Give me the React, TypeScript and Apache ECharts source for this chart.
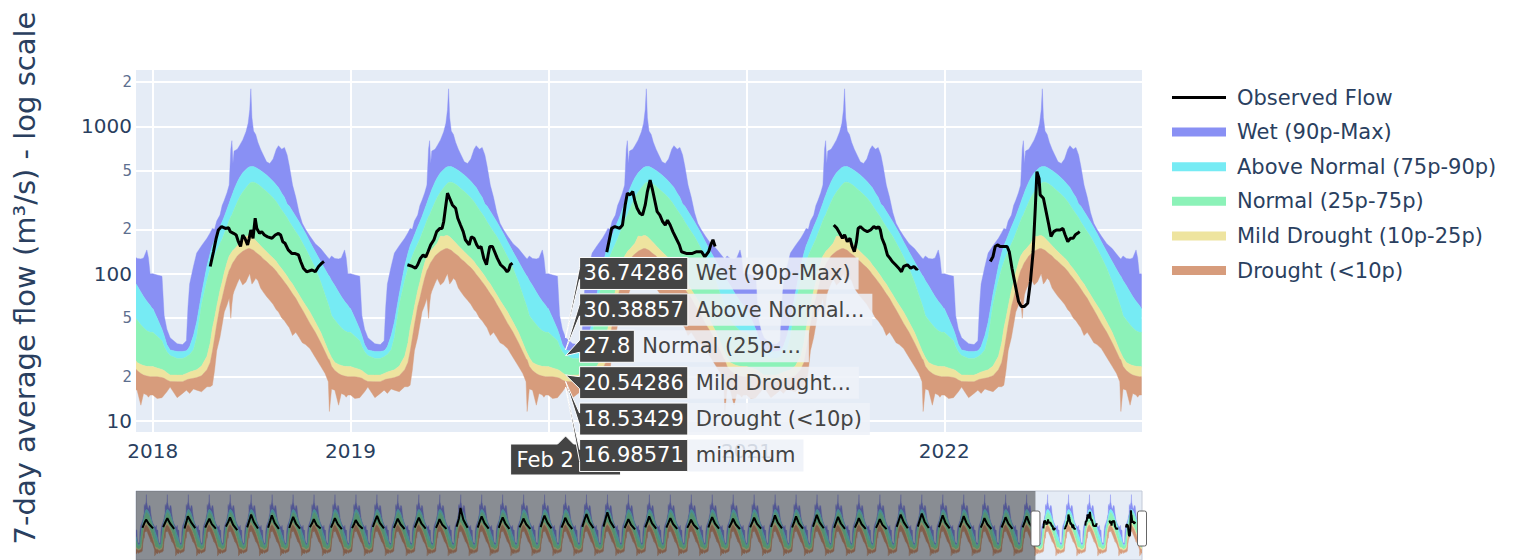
import { useEffect, useRef } from 'react';
import * as echarts from 'echarts';

const FONT = '"DejaVu Sans", Verdana, sans-serif';
const INK = '#2a3f5f';
const PLOT_BG = '#E5ECF6';

// Day of year (0 = Jan 1) at which the daily percentile curves were read
const PROFILE_DOY = [0, 8, 17, 21, 26, 32, 45, 55, 62, 65, 68, 75, 81, 90, 100, 106, 110, 114, 118, 124, 128, 132, 137, 141, 144, 146, 148, 150, 156, 160, 166, 172, 176, 179, 181, 183, 186, 190, 194, 199, 204, 210, 216, 222, 228, 232, 238, 243, 248, 252, 258, 264, 270, 276, 282, 290, 300, 310, 318, 324, 326, 330, 336, 343, 348, 354, 357, 360, 364];
const BAND_MAX = [100, 98, 96, 52, 42, 36.74286, 33.5, 33, 35, 60, 85, 112, 138, 155, 174, 190, 203, 200, 228, 250, 290, 315, 355, 400, 700, 800, 560, 680, 700, 740, 810, 920, 1050, 1300, 1800, 1150, 930, 880, 780, 700, 640, 575, 560, 600, 700, 740, 700, 720, 640, 540, 400, 330, 260, 220, 200, 180, 160, 148, 136, 128, 126, 132, 127, 126, 128, 145, 128, 100, 100];
const BAND_P90 = [58, 50, 42, 38, 33, 30.38857, 29.6, 29.6, 30, 30.8, 32, 38, 47, 73, 113, 138, 155, 168, 183, 208, 225, 245, 275, 302, 325, 340, 356, 373, 420, 448, 485, 510, 525, 532, 535, 535, 535, 525, 516, 502, 487, 468, 446, 425, 400, 385, 352, 330, 297, 288, 265, 245, 225, 206, 188, 165, 141, 121, 107, 98, 96, 90, 83, 75, 70, 65, 63, 61, 58];
const BAND_P75 = [40, 37.6, 35, 32, 29.5, 27.8, 26.6, 26.6, 27.3, 27.8, 28.3, 30.5, 37, 62, 90, 109, 120, 132, 143, 160, 172, 188, 210, 230, 245, 250, 262, 273, 307, 330, 358, 383, 400, 412, 416, 418, 418, 413, 405, 392, 378, 361, 345, 328, 308, 293, 271, 255, 240, 225, 208, 193, 179, 163, 148, 130, 109, 88, 72, 62, 59, 52, 48.5, 45, 43, 41, 40.5, 40, 40];
const BAND_P25 = [23.4, 22.9, 22.4, 22, 21.3, 20.54286, 20.5, 20.5, 21, 21.3, 21.5, 21.9, 22.3, 23.6, 27.5, 34, 42.6, 50, 60, 77, 88, 102, 119, 132, 137, 141, 144, 146, 155, 161, 180, 179, 182, 182, 180, 178, 174, 168, 162, 155, 148, 141, 134, 128, 121, 115, 108, 102, 96, 91, 85, 78, 72, 66, 61, 55, 47, 40, 34, 30, 29, 27, 25, 24.2, 23.8, 23.5, 23.5, 23.4, 23.4];
const BAND_P10 = [20, 20, 19.7, 19.5, 19, 18.53429, 18.5, 18.5, 19, 19.2, 19.3, 19.5, 19.7, 20.3, 22.3, 25, 29.6, 36.5, 45, 60, 68, 79, 94, 105, 110, 115, 119, 122, 132, 136, 142, 146, 148, 148, 147, 146, 144, 140, 136, 132, 126, 121, 115, 110, 104, 99, 93, 88, 83, 79, 73, 68, 62, 57, 52, 46, 40, 34, 29.5, 26.5, 26, 23.5, 22, 21, 20.5, 20.2, 20.1, 20, 20];
const BAND_MIN = [15, 14.2, 14.4, 15, 15.8, 16.98571, 14.4, 15.4, 16.2, 15.8, 15.4, 16.5, 16.2, 15.8, 17.1, 17.1, 17.5, 22, 30, 37, 45, 55, 61.3, 68, 49.8, 62, 71.7, 76, 86, 92.9, 83.8, 88, 95, 100, 92, 85, 88, 93, 90, 80, 75, 70, 66, 62, 57, 55, 50, 48, 45, 43, 38, 40, 37, 34, 33, 31, 27, 23.5, 21, 18.5, 11.6, 16.5, 16.2, 12.8, 15.4, 15, 14.5, 15, 15];

// Observed 7-day average flow, [day of year, m3/s]
const OBS_2018 = [[106, 112], [112, 141], [117, 174], [121, 198], [127, 209], [134, 203], [140, 205], [143, 193], [149, 188], [154, 183], [158, 165], [162, 153], [166, 183], [170, 174], [175, 157], [178, 174], [181, 198], [185, 174], [189, 238], [192, 203], [197, 188], [201, 193], [206, 183], [212, 178], [220, 174], [226, 183], [232, 188], [236, 183], [240, 165], [244, 161], [250, 145], [257, 137], [263, 137], [269, 134], [273, 121], [278, 109], [284, 103], [294, 106], [300, 103], [306, 112], [312, 118], [316, 121]];
const OBS_2019 = [[105, 115], [114, 112], [120, 109], [124, 115], [129, 127], [134, 134], [139, 130], [143, 141], [148, 157], [154, 170], [159, 193], [165, 203], [169, 203], [172, 226], [176, 293], [179, 352], [183, 325], [188, 293], [194, 278], [198, 238], [203, 214], [208, 193], [212, 170], [219, 157], [223, 178], [228, 174], [233, 157], [237, 149], [241, 153], [246, 127], [251, 115], [254, 134], [257, 153], [262, 153], [266, 141], [271, 127], [277, 115], [284, 109], [289, 103], [292, 106], [295, 115], [299, 118]];
const OBS_2020 = [[108, 140], [117, 203], [123, 209], [132, 203], [137, 214], [142, 293], [146, 352], [151, 343], [156, 361], [160, 309], [164, 278], [169, 257], [174, 250], [179, 293], [183, 361], [188, 432], [192, 377], [197, 309], [201, 264], [206, 250], [211, 226], [216, 214], [220, 231], [225, 214], [230, 193], [236, 174], [242, 157], [246, 141], [256, 137], [265, 137], [274, 141], [283, 141], [289, 130], [296, 141], [300, 157], [304, 170], [308, 153]];
const OBS_2021 = [[161, 214], [167, 203], [172, 188], [177, 174], [181, 184], [186, 165], [191, 174], [195, 153], [199, 141], [203, 165], [206, 203], [210, 209], [217, 198], [223, 193], [229, 198], [235, 209], [240, 203], [244, 209], [247, 198], [250, 174], [255, 157], [260, 134], [265, 127], [269, 121], [275, 115], [281, 109], [286, 103], [290, 112], [297, 115], [303, 109], [309, 112], [314, 107], [316, 109]];
const OBS_2022 = [[85, 121], [90, 131], [94, 153], [99, 157], [103, 153], [110, 153], [116, 153], [120, 141], [125, 109], [131, 84], [137, 65], [142, 60], [148, 60], [154, 63], [159, 88], [164, 141], [168, 278], [171, 493], [175, 444], [177, 343], [183, 325], [188, 264], [193, 214], [197, 179], [202, 193], [207, 198], [214, 198], [219, 203], [223, 184], [228, 165], [233, 174], [238, 174], [242, 184], [246, 188], [250, 193]];
// Earlier seasons, only visible (coarsely) in the range slider
const OBS_EARLY: [number, number[][]][] = [
  [1975, [[112, 118], [150, 180], [176, 232], [222, 165], [298, 112]]],
  [1976, [[108, 125], [148, 190], [181, 262], [228, 170], [300, 108]]],
  [1977, [[115, 112], [152, 210], [172, 305], [230, 185], [302, 115]]],
  [1978, [[110, 120], [146, 175], [183, 248], [226, 160], [296, 110]]],
  [1979, [[106, 130], [150, 200], [178, 280], [232, 150], [304, 98]]],
  [1980, [[112, 122], [154, 230], [180, 350], [228, 190], [300, 112]]],
  [1981, [[110, 118], [149, 215], [175, 330], [225, 175], [298, 108]]],
  [1982, [[114, 116], [152, 195], [182, 290], [230, 168], [302, 110]]],
  [1983, [[108, 124], [147, 170], [177, 240], [224, 150], [296, 112]]],
  [1984, [[111, 120], [150, 185], [180, 262], [229, 160], [300, 106]]],
  [1985, [[113, 115], [151, 165], [176, 222], [226, 150], [299, 110]]],
  [1986, [[109, 126], [148, 210], [183, 312], [231, 178], [303, 112]]],
  [1987, [[112, 118], [150, 180], [178, 250], [227, 158], [298, 107]]],
  [1988, [[110, 121], [149, 190], [181, 270], [229, 165], [301, 110]]],
  [1989, [[114, 117], [152, 175], [175, 240], [224, 152], [297, 108]]],
  [1990, [[108, 128], [150, 260], [176, 600], [226, 230], [300, 118]]],
  [1991, [[111, 120], [148, 205], [180, 300], [229, 172], [302, 110]]],
  [1992, [[113, 118], [151, 195], [182, 280], [228, 165], [299, 109]]],
  [1993, [[109, 122], [149, 180], [177, 252], [225, 158], [297, 108]]],
  [1994, [[112, 125], [150, 220], [179, 320], [230, 180], [301, 112]]],
  [1995, [[110, 119], [152, 190], [176, 270], [226, 162], [298, 107]]],
  [1996, [[108, 127], [148, 235], [181, 360], [231, 190], [303, 115]]],
  [1997, [[111, 130], [150, 260], [178, 420], [229, 200], [300, 116]]],
  [1998, [[114, 116], [153, 175], [180, 242], [227, 150], [296, 104]]],
  [1999, [[109, 123], [149, 200], [177, 300], [228, 170], [300, 110]]],
  [2000, [[112, 120], [151, 185], [182, 262], [230, 160], [301, 108]]],
  [2001, [[110, 117], [150, 168], [176, 230], [224, 148], [297, 105]]],
  [2002, [[113, 121], [148, 195], [179, 282], [229, 165], [299, 110]]],
  [2003, [[108, 119], [152, 178], [178, 250], [226, 155], [298, 107]]],
  [2004, [[111, 122], [150, 188], [181, 270], [230, 162], [302, 111]]],
  [2005, [[109, 126], [149, 215], [177, 330], [227, 180], [300, 113]]],
  [2006, [[112, 121], [151, 200], [180, 300], [229, 170], [301, 110]]],
  [2007, [[110, 128], [148, 225], [176, 340], [226, 185], [298, 114]]],
  [2008, [[114, 118], [152, 195], [182, 290], [231, 168], [303, 109]]],
  [2009, [[109, 120], [150, 182], [178, 260], [228, 158], [299, 108]]],
  [2010, [[112, 117], [151, 172], [179, 240], [225, 150], [297, 106]]],
  [2011, [[108, 127], [148, 228], [177, 350], [230, 188], [301, 114]]],
  [2012, [[111, 130], [150, 240], [181, 380], [229, 195], [302, 116]]],
  [2013, [[113, 124], [149, 215], [178, 330], [227, 178], [300, 112]]],
  [2014, [[110, 122], [151, 205], [180, 310], [230, 172], [299, 110]]],
  [2015, [[112, 119], [150, 182], [176, 260], [226, 158], [297, 107]]],
  [2016, [[109, 121], [149, 190], [179, 280], [228, 165], [300, 109]]],
  [2017, [[111, 123], [151, 200], [182, 300], [229, 170], [301, 111]]],
];
const OBSERVED: [number, number[][]][] = [...OBS_EARLY, [2018, OBS_2018], [2019, OBS_2019], [2020, OBS_2020], [2021, OBS_2021], [2022, OBS_2022]];

const BAND_NAMES = ['Wet (90p-Max)', 'Above Normal (75p-90p)', 'Normal (25p-75p)', 'Mild Drought (10p-25p)', 'Drought (<10p)'];
const BAND_COLORS = ['#8990f4', '#76ebf4', '#8cf2b8', '#eee49f', '#d79c7c'];
const MIN_NAME = 'minimum';
const OBS_NAME = 'Observed Flow';

const Y_TICKS = [10, 20, 50, 100, 200, 500, 1000, 2000];
const X_TICK_YEARS = [2018, 2019, 2020, 2021, 2022];
const X_LABEL_YEARS = [2018, 2019, 2021, 2022]; // 2020 sits under the hover date label
const Y_RANGE = [8.42, 2415];
const VIEW = [Date.UTC(2017, 11, 1), Date.UTC(2023, 0, 1)];
const RECORD = [Date.UTC(1975, 0, 1), Date.UTC(2023, 0, 1)];
const MAIN_YEARS = [2017, 2018, 2019, 2020, 2021, 2022];
const HOVER = { year: 2020, doy: 32, label: 'Feb 2, 2020' };
const Y_TITLE = '7-day average flow (m³/s) - log scale';

const doyTime = (year: number, doy: number) => Date.UTC(year, 0, 1 + doy);

function buildSeries(years: number[], g: number) {
  const times: number[] = [];
  const idx: number[] = [];
  years.forEach((y) => PROFILE_DOY.forEach((d, i) => { times.push(doyTime(y, d)); idx.push(i); }));
  const curves = [BAND_MIN, BAND_P10, BAND_P25, BAND_P75, BAND_P90, BAND_MAX];
  const mid = times[Math.floor(times.length / 2)];
  const out: any[] = BAND_NAMES.map((name, bi) => {
    const c = curves.length - 1 - bi;
    const up = curves[c];
    const lo = curves[c - 1];
    return {
      type: 'custom', name, xAxisIndex: g, yAxisIndex: g, silent: true, z: 2, clip: true,
      itemStyle: { color: BAND_COLORS[bi] },
      encode: { x: 0, y: 1 },
      data: [[mid, 100]],
      renderItem: (params: any, api: any) => {
        const pts: number[][] = [];
        for (let k = 0; k < times.length; k++) pts.push(api.coord([times[k], up[idx[k]]]));
        for (let k = times.length - 1; k >= 0; k--) pts.push(api.coord([times[k], lo[idx[k]]]));
        const cs = params.coordSys;
        return {
          type: 'polygon', shape: { points: pts },
          style: { fill: BAND_COLORS[bi], stroke: BAND_COLORS[bi], lineWidth: 0.4 },
          clipPath: { type: 'rect', shape: { x: cs.x, y: cs.y, width: cs.width, height: cs.height } },
        };
      },
    };
  });
  const obs: any[] = [];
  OBSERVED.forEach(([y, pts]) => {
    if (!years.includes(y)) return;
    pts.forEach(([d, v]) => obs.push([doyTime(y, d), v]));
    obs.push([doyTime(y, 364), null]);
  });
  out.push({
    type: 'line', name: OBS_NAME, xAxisIndex: g, yAxisIndex: g, data: obs, symbol: 'none',
    silent: true, connectNulls: false, z: 3, itemStyle: { color: '#000' },
    lineStyle: { color: '#000', width: g === 0 ? 3 : 2 },
  });
  return out;
}

function overlay(chart: any) {
  const els: any[] = [];
  els.push({
    type: 'text', x: 25, y: 278, rotation: Math.PI / 2, z: 50,
    style: { text: Y_TITLE, fill: INK, fontSize: 29, fontFamily: FONT, align: 'center', verticalAlign: 'middle', textAlign: 'center', textVerticalAlign: 'middle' },
  });
  const sl = chart.convertToPixel({ gridIndex: 1 }, [RECORD[0], 100]);
  const sa = chart.convertToPixel({ gridIndex: 1 }, [VIEW[0], 100]);
  const sb = chart.convertToPixel({ gridIndex: 1 }, [VIEW[1], 100]);
  els.push({ type: 'rect', shape: { x: sl[0], y: 491, width: sa[0] - sl[0], height: 100 }, style: { fill: 'rgba(0,0,0,0.4)' }, z: 40, silent: true });
  [sa[0], sb[0]].forEach((x) => els.push({
    type: 'rect', shape: { x: x - 4.5, y: 511, width: 9, height: 35, r: 2 },
    style: { fill: '#fff', stroke: '#666', lineWidth: 1 }, z: 41,
  }));

  const i = PROFILE_DOY.indexOf(HOVER.doy);
  const t = doyTime(HOVER.year, HOVER.doy);
  const vals = [BAND_MAX[i], BAND_P90[i], BAND_P75[i], BAND_P25[i], BAND_P10[i], BAND_MIN[i]];
  const names = [...BAND_NAMES, MIN_NAME].map((n) => (n.length > 15 ? n.slice(0, 12) + '...' : n));
  const pts = vals.map((v) => chart.convertToPixel({ gridIndex: 0 }, [t, v]));
  const px = pts[0][0];
  const meanY = pts.reduce((s: number, p: number[]) => s + p[1], 0) / pts.length;
  const ctx = document.createElement('canvas').getContext('2d') as CanvasRenderingContext2D;
  ctx.font = '21px "DejaVu Sans"';
  const txt = (text: string, x: number, y: number, fill: string, extra: any = {}) => ({
    type: 'text', x, y, z: 102, silent: true,
    style: { text, fill, fontSize: 21, fontFamily: FONT, align: 'left', verticalAlign: 'middle', textAlign: 'left', textVerticalAlign: 'middle', ...extra },
  });

  const step = 36.4, h = 32, arrow = 14;
  const bx = px + arrow;

  // x-axis hover label (its right part lies under the value boxes)
  const gb = chart.convertToPixel({ gridIndex: 0 }, [t, Y_RANGE[0]])[1];
  const dw = 110;
  const top = gb + 12, bot = gb + 43;
  els.push({
    type: 'polygon', z: 99, silent: true,
    shape: { points: [[px, gb + 4], [px + 8, top], [px + dw / 2, top], [px + dw / 2, bot], [px - dw / 2, bot], [px - dw / 2, top], [px - 8, top]] },
    style: { fill: '#444', stroke: '#fff', lineWidth: 1 },
  });
  els.push({ ...txt(HOVER.label, px - dw / 2 + 6, (top + bot) / 2, '#fff', { width: bx - (px - dw / 2 + 6) - 1, overflow: 'truncate', ellipsis: '' }), z: 99 });

  vals.forEach((v, k) => {
    const ly = meanY + (k - (vals.length - 1) / 2) * step;
    const s = String(v);
    const vw = ctx.measureText(s).width + 8;
    const nw = ctx.measureText(names[k]).width + 16;
    const py = pts[k][1];
    els.push({
      type: 'rect', z: 100, silent: true,
      shape: { x: bx + vw, y: ly - h / 2, width: nw, height: h },
      style: { fill: 'rgba(238,241,248,0.86)' },
    });
    els.push({
      type: 'polygon', z: 101, silent: true,
      shape: { points: [[px, py], [bx, ly - 6], [bx, ly - h / 2], [bx + vw, ly - h / 2], [bx + vw, ly + h / 2], [bx, ly + h / 2], [bx, ly + 6]] },
      style: { fill: '#444', stroke: '#fff', lineWidth: 1 },
    });
    els.push(txt(s, bx + 4, ly, '#fff'));
    els.push(txt(names[k], bx + vw + 8, ly, '#444'));
  });
  return els;
}

export default function App() {
  const ref = useRef<HTMLDivElement>(null);
  useEffect(() => {
    if (!ref.current) return;
    const chart = echarts.init(ref.current, null, { renderer: 'svg' });
    const recordYears: number[] = [];
    for (let y = 1975; y <= 2022; y++) recordYears.push(y);
    const xTicks = X_TICK_YEARS.map((y) => Date.UTC(y, 0, 1));
    const xLabels = X_LABEL_YEARS.map((y) => Date.UTC(y, 0, 1));
    const yLabel = (v: number) => {
      const r = Math.round(v);
      const lead = Math.round(r / Math.pow(10, Math.floor(Math.log10(r) + 1e-9)));
      return lead === 1 ? `{maj|${r}}` : `{mnr|${lead}}`;
    };
    chart.setOption({
      animation: false,
      backgroundColor: '#fff',
      textStyle: { fontFamily: FONT },
      grid: [
        { left: 136, top: 70, width: 1006, height: 362, show: true, backgroundColor: PLOT_BG, borderWidth: 0 },
        { left: 136, top: 491, width: 1006, height: 90, show: true, backgroundColor: PLOT_BG, borderColor: '#c3cad8', borderWidth: 1 },
      ],
      xAxis: [
        {
          type: 'value', gridIndex: 0, min: VIEW[0], max: VIEW[1],
          axisLine: { show: false }, axisTick: { show: false, customValues: xTicks },
          splitLine: { show: true, lineStyle: { color: '#fff', width: 2 } },
          axisLabel: { customValues: xLabels, margin: 9, fontSize: 20, color: INK, fontFamily: FONT, formatter: (v: number) => String(new Date(v).getUTCFullYear()) },
        },
        { type: 'value', gridIndex: 1, min: RECORD[0], max: RECORD[1], show: false, splitLine: { show: false } },
      ],
      yAxis: [
        {
          type: 'log', gridIndex: 0, min: Y_RANGE[0], max: Y_RANGE[1],
          axisLine: { show: false }, axisTick: { show: false, customValues: Y_TICKS },
          splitLine: { show: true, lineStyle: { color: '#fff', width: 2 } },
          axisLabel: {
            customValues: Y_TICKS, margin: 4, formatter: yLabel,
            rich: { maj: { fontSize: 20, color: INK, fontFamily: FONT }, mnr: { fontSize: 15, color: '#5d6f8f', fontFamily: FONT } },
          },
        },
        { type: 'log', gridIndex: 1, min: Y_RANGE[0], max: Y_RANGE[1], show: false, splitLine: { show: false } },
      ],
      legend: {
        orient: 'vertical', left: 1167, top: 82, itemWidth: 54, itemHeight: 9, itemGap: 13.6, selectedMode: false,
        textStyle: { fontFamily: FONT, fontSize: 21, color: INK, padding: [0, 0, 0, 6] },
        data: [
          { name: OBS_NAME, icon: 'path://M0,0H54V3H0Z', itemStyle: { color: '#000' } },
          ...BAND_NAMES.map((n, i) => ({ name: n, icon: 'rect', itemStyle: { color: BAND_COLORS[i] } })),
        ],
      },
      series: [...buildSeries(MAIN_YEARS, 0), ...buildSeries(recordYears, 1)],
    });
    chart.setOption({ graphic: { elements: overlay(chart) } });
    return () => chart.dispose();
  }, []);
  return <div ref={ref} style={{ position: 'fixed', left: 0, top: 0, width: 1518, height: 560 }} />;
}
